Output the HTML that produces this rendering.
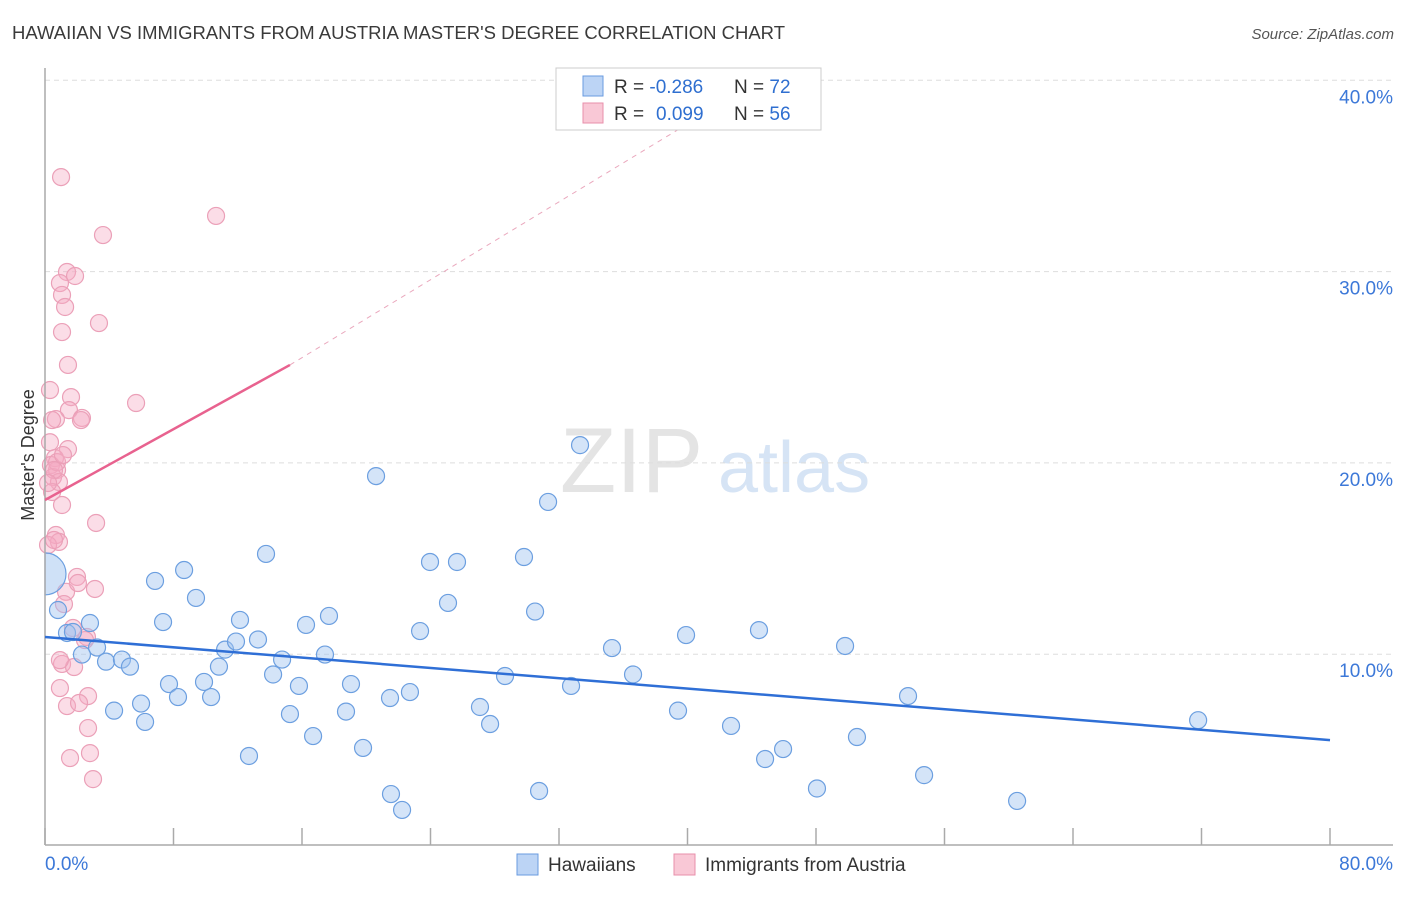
<!DOCTYPE html>
<html><head><meta charset="utf-8">
<style>
body{margin:0;background:#fff;font-family:"Liberation Sans",sans-serif;}
svg text{font-family:"Liberation Sans",sans-serif;}
</style></head>
<body>
<svg id="chart" width="1406" height="892" xmlns="http://www.w3.org/2000/svg">
<text x="12" y="39" font-size="18" fill="#3a3a3a" textLength="773" lengthAdjust="spacingAndGlyphs">HAWAIIAN VS IMMIGRANTS FROM AUSTRIA MASTER'S DEGREE CORRELATION CHART</text>
<text x="1394" y="39" font-size="15" fill="#555" font-style="italic" text-anchor="end">Source: ZipAtlas.com</text>
<text x="560" y="492" font-size="92" fill="#e4e4e4" font-family="Liberation Serif">ZIP</text>
<text x="718" y="492" font-size="72" fill="#d6e4f5">atlas</text>
<g id="grid"></g>
<g id="pts"></g>
<g id="axes"></g>
<g id="lines"></g>
<text transform="translate(34,455) rotate(-90)" font-size="18" fill="#333" text-anchor="middle">Master's Degree</text>
<g>
<rect x="556" y="68" width="265" height="62" fill="#fff" stroke="#ccc"/>
<rect x="583" y="76" width="20" height="20" fill="#bcd4f5" stroke="#6a9be0"/>
<rect x="583" y="103" width="20" height="20" fill="#f9c8d6" stroke="#e88fab"/>
<text x="614" y="93" font-size="19" fill="#333">R = <tspan fill="#2f6fd0">-0.286</tspan><tspan x="734">N = </tspan><tspan fill="#2f6fd0">72</tspan></text>
<text x="614" y="120" font-size="19" fill="#333">R = <tspan fill="#2f6fd0" x="656">0.099</tspan><tspan x="734">N = </tspan><tspan fill="#2f6fd0">56</tspan></text>
</g>
<g>
<rect x="517" y="854" width="21" height="21" fill="#bcd4f5" stroke="#6a9be0"/>
<text x="548" y="871" font-size="19" fill="#333">Hawaiians</text>
<rect x="674" y="854" width="21" height="21" fill="#f9c8d6" stroke="#e88fab"/>
<text x="705" y="871" font-size="19" fill="#333">Immigrants from Austria</text>
</g>
</svg>
<script>
const blueX=[0.81,1.37,1.74,2.80,2.30,3.24,3.80,4.79,5.29,4.30,5.98,6.23,6.85,7.35,7.72,8.28,8.66,9.40,9.90,10.34,10.83,11.21,11.89,12.14,12.70,13.26,13.76,14.20,14.76,15.25,15.81,16.25,16.69,17.43,17.68,18.74,19.05,19.80,20.61,21.48,21.54,22.23,22.72,23.35,23.97,25.09,25.65,27.08,27.71,28.64,29.82,30.51,30.76,31.32,32.75,33.31,35.30,36.61,39.41,39.91,42.71,44.45,44.83,45.95,48.06,49.81,50.55,53.73,54.73,60.52,71.79];
const blueY=[12.31,11.11,11.16,11.63,9.98,10.35,9.61,9.72,9.35,7.05,7.42,6.46,13.83,11.68,8.44,7.76,14.40,12.94,8.55,7.76,9.35,10.24,10.66,11.79,4.68,10.77,15.24,8.94,9.72,6.87,8.34,11.53,5.72,9.98,12.00,7.00,8.44,5.10,19.31,7.71,2.69,1.86,8.02,11.21,14.82,12.68,14.82,7.24,6.35,8.86,15.08,12.23,2.85,17.96,8.34,20.93,10.32,8.94,7.05,11.00,6.25,11.26,4.52,5.04,2.98,10.43,5.67,7.81,3.68,2.33,6.55];
const pinkX=[1.00,10.65,3.61,1.37,1.87,0.93,1.06,1.25,3.36,1.06,1.43,0.31,1.62,5.67,1.49,0.68,2.30,0.44,2.24,1.43,0.31,0.62,0.37,0.75,0.50,0.87,0.44,1.06,3.18,0.68,0.87,1.99,3.11,1.31,1.18,1.74,2.61,1.06,1.81,0.93,2.68,1.37,2.12,2.68,1.56,2.80,2.99,0.19,0.56,0.75,1.12,0.56,0.19,2.05,2.49,0.93];
const pinkY=[34.94,32.91,31.91,29.98,29.77,29.40,28.78,28.15,27.31,26.84,25.12,23.81,23.44,23.13,22.76,22.29,22.35,22.24,22.24,20.72,21.08,20.25,19.89,19.63,19.26,19.00,18.48,17.80,16.86,16.23,15.87,14.04,13.41,13.26,12.62,11.37,10.90,9.49,9.33,8.23,7.81,7.29,7.45,6.14,4.57,4.83,3.47,15.71,15.97,20.04,20.41,19.63,18.95,13.72,10.74,9.69];
const bigBlue=[0,14.2];
const blueTrend=[0,10.9,80,5.51];
const pinkTrend=[0,18.06,15.25,25.12];
const pinkDash=[15.25,25.12,43.5,39.5];
const yTicks=[10,20,30,40];
const yTickLabels=["10.0%","20.0%","30.0%","40.0%"];
const xTicks=[0,8,16,24,32,40,48,56,64,72,80];

const NS="http://www.w3.org/2000/svg";
const sx=v=>45+v/80*1285;
const sy=v=>845.5-v*19.13;
function mk(t,a,p){const e=document.createElementNS(NS,t);for(const k in a)e.setAttribute(k,a[k]);document.getElementById(p).appendChild(e);return e;}
yTicks.forEach((t,i)=>{
 const l=mk('line',{x1:45,x2:1393,y1:sy(t),y2:sy(t),stroke:'#ddd','stroke-dasharray':'5,4'},'grid');
 
 
 const tx=mk('text',{x:1393,y:sy(t)+23,'font-size':19,fill:'#3c78d8','text-anchor':'end'},'grid');
 tx.textContent=yTickLabels[i];
 
 
});
let a=mk('line',{x1:45,x2:45,y1:68,y2:845,stroke:'#aaa','stroke-width':1.5},'axes');


a=mk('line',{x1:45,x2:1393,y1:845,y2:845,stroke:'#aaa','stroke-width':1.5},'axes');


xTicks.forEach(t=>{
 const l=mk('line',{x1:sx(t),x2:sx(t),y1:828,y2:845,stroke:'#aaa','stroke-width':1.5},'axes');
 
 
});
let t0=mk('text',{x:45,y:870,'font-size':19,fill:'#3c78d8'},'axes');t0.textContent='0.0%';


let t1=mk('text',{x:1393,y:870,'font-size':19,fill:'#3c78d8','text-anchor':'end'},'axes');t1.textContent='80.0%';


pinkX.forEach((x,i)=>{
 const c=mk('circle',{cx:sx(x),cy:sy(pinkY[i]),r:8.5,fill:'rgba(246,170,195,0.4)',stroke:'#eba0b8','stroke-width':1.2},'pts');
 
 
});
blueX.forEach((x,i)=>{
 const c=mk('circle',{cx:sx(x),cy:sy(blueY[i]),r:8.5,fill:'rgba(160,195,240,0.45)',stroke:'#6c9fe0','stroke-width':1.2},'pts');
 
 
});
const bcx=sx(bigBlue[0]), bcy=sy(bigBlue[1]), br=21;
const bb=mk('path',{d:`M${bcx},${bcy-br} A${br},${br} 0 0 1 ${bcx},${bcy+br} Z`,fill:'rgba(160,195,240,0.5)',stroke:'#6c9fe0','stroke-width':1.2},'pts');


let L=mk('line',{x1:sx(blueTrend[0]),y1:sy(blueTrend[1]),x2:sx(blueTrend[2]),y2:sy(blueTrend[3]),stroke:'#2f6fd6','stroke-width':2.5},'lines');


L=mk('line',{x1:sx(pinkTrend[0]),y1:sy(pinkTrend[1]),x2:sx(pinkTrend[2]),y2:sy(pinkTrend[3]),stroke:'#e8628f','stroke-width':2.5},'lines');


L=mk('line',{x1:sx(pinkDash[0]),y1:sy(pinkDash[1]),x2:sx(pinkDash[2]),y2:sy(pinkDash[3]),stroke:'#eaa8bd','stroke-width':1,'stroke-dasharray':'5,5'},'lines');


</script>
</body></html>
